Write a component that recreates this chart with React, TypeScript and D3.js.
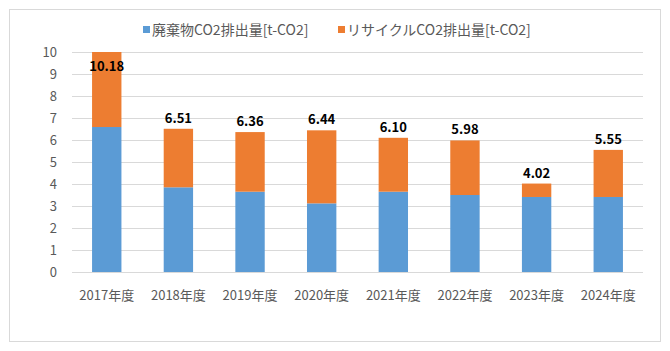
import React, { useRef, useEffect } from "react";
import * as d3 from "d3";

const years = ["2017年度", "2018年度", "2019年度", "2020年度", "2021年度", "2022年度", "2023年度", "2024年度"];
const waste = [6.59, 3.85, 3.65, 3.12, 3.65, 3.5, 3.41, 3.41];
const totals = [10.18, 6.51, 6.36, 6.44, 6.1, 5.98, 4.02, 5.55];
const yTicks = [0, 1, 2, 3, 4, 5, 6, 7, 8, 9, 10];
const seriesNames = ["廃棄物CO2排出量[t-CO2]", "リサイクルCO2排出量[t-CO2]"];

const App = () => {
  const svgRef = useRef<SVGSVGElement>(null);

  useEffect(() => {
    const svg = d3.select(svgRef.current);
    svg.selectAll("*").remove();

    const width = 670;
    const height = 351;
    const margin = { top: 52, right: 27, bottom: 79, left: 72 };
    const font = "'Noto Sans CJK JP', sans-serif";
    const colors = ["#5B9BD5", "#ED7D31"];

    const rows = years.map((yr, i) => ({
      year: yr,
      waste: waste[i],
      recycle: +(totals[i] - waste[i]).toFixed(2),
      total: totals[i],
    }));

    const x = d3
      .scaleBand()
      .domain(years)
      .range([margin.left, width - margin.right])
      .paddingInner(0.59)
      .paddingOuter(0.28);

    const y = d3
      .scaleLinear()
      .domain([0, 10])
      .range([height - margin.bottom, margin.top]);

    // chart border
    svg
      .append("rect")
      .attr("x", 9.5)
      .attr("y", 9.5)
      .attr("width", 651)
      .attr("height", 332)
      .attr("fill", "white")
      .attr("stroke", "#D9D9D9");

    // gridlines
    svg
      .append("g")
      .selectAll("line")
      .data(yTicks)
      .join("line")
      .attr("x1", margin.left)
      .attr("x2", width - margin.right)
      .attr("y1", (d) => Math.round(y(d)) + 0.5)
      .attr("y2", (d) => Math.round(y(d)) + 0.5)
      .attr("stroke", "#D9D9D9")
      .attr("stroke-width", 1);

    // y tick labels
    svg
      .append("g")
      .selectAll("text")
      .data(yTicks)
      .join("text")
      .attr("x", margin.left - 15)
      .attr("y", (d) => y(d))
      .attr("dy", "0.35em")
      .attr("text-anchor", "end")
      .attr("font-family", font)
      .attr("font-size", 13)
      .attr("fill", "#595959")
      .text((d) => d);

    // stacked bars (clipped at the axis max like the original)
    const stack = d3.stack<any>().keys(["waste", "recycle"])(rows);
    const clip = (v: number) => Math.min(v, 10);

    svg
      .append("g")
      .selectAll("g")
      .data(stack)
      .join("g")
      .attr("fill", (d, i) => colors[i])
      .selectAll("rect")
      .data((d) => d)
      .join("rect")
      .attr("x", (d) => x(d.data.year)!)
      .attr("width", x.bandwidth())
      .attr("y", (d) => y(clip(d[1])))
      .attr("height", (d) => y(clip(d[0])) - y(clip(d[1])));

    // total labels
    svg
      .append("g")
      .selectAll("text")
      .data(rows)
      .join("text")
      .attr("x", (d) => x(d.year)! + x.bandwidth() / 2)
      .attr("y", (d) => (d.total > 10 ? y(10) + 19 : y(d.total) - 6))
      .attr("text-anchor", "middle")
      .attr("font-family", font)
      .attr("font-size", 13)
      .attr("font-weight", "bold")
      .attr("fill", "#000")
      .text((d) => d.total.toFixed(2));

    // x axis labels
    svg
      .append("g")
      .selectAll("text")
      .data(years)
      .join("text")
      .attr("x", (d) => x(d)! + x.bandwidth() / 2)
      .attr("y", height - margin.bottom + 28)
      .attr("text-anchor", "middle")
      .attr("font-family", font)
      .attr("font-size", 13)
      .attr("fill", "#595959")
      .text((d) => d);

    // legend
    const legendX = [143, 338];
    const legend = svg
      .append("g")
      .selectAll("g")
      .data(seriesNames)
      .join("g")
      .attr("transform", (d, i) => `translate(${legendX[i]},30)`);

    legend
      .append("rect")
      .attr("x", 0)
      .attr("y", -4)
      .attr("width", 7)
      .attr("height", 7)
      .attr("fill", (d, i) => colors[i]);

    legend
      .append("text")
      .attr("x", 9)
      .attr("y", 0)
      .attr("dy", "0.35em")
      .attr("font-family", font)
      .attr("font-size", 14)
      .attr("fill", "#595959")
      .text((d) => d);
  }, []);

  return (
    <svg
      ref={svgRef}
      width="670"
      height="351"
      style={{ position: "absolute", left: 0, top: 0 }}
    />
  );
};

export default App;
